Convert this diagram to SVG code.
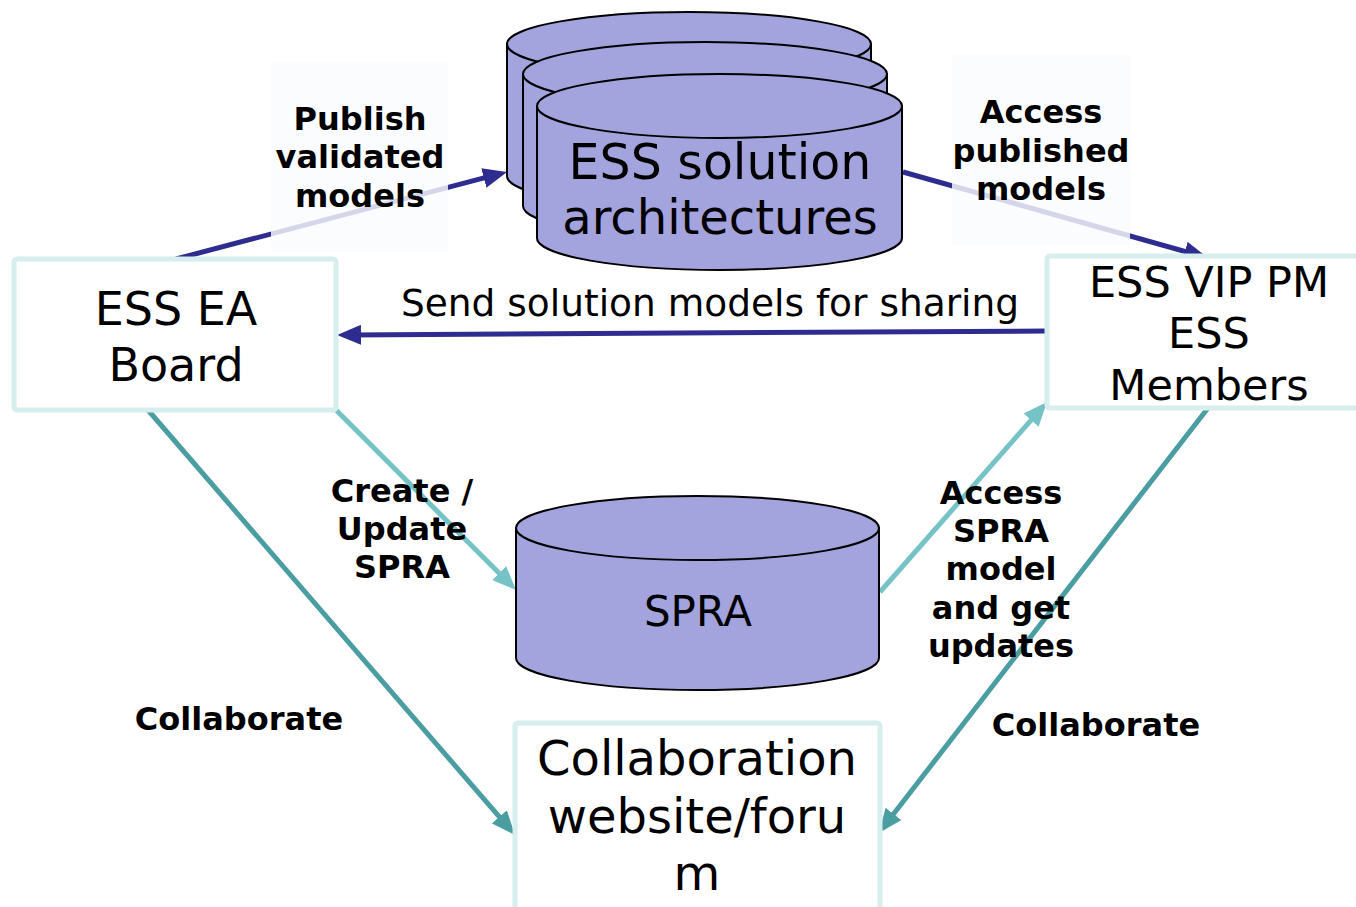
<svg xmlns="http://www.w3.org/2000/svg" width="1356" height="907" viewBox="0 0 1356 907">
<style>
.box{fill:#fff;stroke:#d6eeee;stroke-width:5}
.cyl{fill:#a3a3de;stroke:#000;stroke-width:2}
.node{font-family:"DejaVu Sans",Verdana,sans-serif;fill:#000;text-anchor:middle}
.lbl{font-family:"DejaVu Sans",Verdana,sans-serif;font-weight:bold;font-size:32px;fill:#000;text-anchor:middle}
.navy{stroke:#2e2d8f;stroke-width:5;fill:none}
.lt{stroke:#76c3c7;stroke-width:5;fill:none}
.dk{stroke:#4a9ea2;stroke-width:5;fill:none}
.lblbg{fill:#fafbfd;fill-opacity:0.82}
</style>
<defs>
<marker id="mNavy" markerUnits="userSpaceOnUse" markerWidth="24" markerHeight="20" refX="13" refY="10" orient="auto"><path d="M0,0 L24,10 L0,20 z" fill="#2e2d8f"/></marker>
<marker id="mLt" markerUnits="userSpaceOnUse" markerWidth="24" markerHeight="20" refX="13" refY="10" orient="auto"><path d="M0,0 L24,10 L0,20 z" fill="#76c3c7"/></marker>
<marker id="mDk" markerUnits="userSpaceOnUse" markerWidth="24" markerHeight="20" refX="13" refY="10" orient="auto"><path d="M0,0 L24,10 L0,20 z" fill="#4a9ea2"/></marker>
</defs>
<rect width="1356" height="907" fill="#fff"/>

<g id="connectors">
<line class="navy" x1="176" y1="259" x2="496.4" y2="174.7" marker-end="url(#mNavy)"/>
<line class="navy" x1="903" y1="172" x2="1197.4" y2="255" marker-end="url(#mNavy)"/>
<line class="navy" x1="1047" y1="331" x2="348" y2="334.9" marker-end="url(#mNavy)"/>
<line class="lt" x1="336" y1="410" x2="508.2" y2="582.2" marker-end="url(#mLt)"/>
<line class="lt" x1="880" y1="592" x2="1039.7" y2="410.3" marker-end="url(#mLt)"/>
<line class="dk" x1="148" y1="410" x2="507.8" y2="826.7" marker-end="url(#mDk)"/>
<line class="dk" x1="1208" y1="408" x2="885.6" y2="824.2" marker-end="url(#mDk)"/>
</g>

<g id="label-publish">
<rect class="lblbg" x="271" y="62" width="177" height="190"/>
<text class="lbl" x="360" y="130">Publish</text>
<text class="lbl" x="360" y="168">validated</text>
<text class="lbl" x="360" y="207">models</text>
</g>
<g id="label-access-published">
<rect class="lblbg" x="952" y="55" width="178" height="190"/>
<text class="lbl" x="1041" y="123">Access</text>
<text class="lbl" x="1041" y="162">published</text>
<text class="lbl" x="1041" y="200">models</text>
</g>

<g id="ess-solution-architectures">
<path class="cyl" d="M507,44 L507,176 A182,32 0 0 0 871,176 L871,44 Z"/>
<ellipse class="cyl" cx="689" cy="44" rx="182" ry="32"/>
<path class="cyl" d="M523,74 L523,206 A182,32 0 0 0 887,206 L887,74 Z"/>
<ellipse class="cyl" cx="705" cy="74" rx="182" ry="32"/>
<path class="cyl" d="M537,106 L537,238 A182.5,32 0 0 0 902,238 L902,106 Z"/>
<ellipse class="cyl" cx="719.5" cy="106" rx="182.5" ry="32"/>
<text class="node" x="720" y="179" font-size="49">ESS solution</text>
<text class="node" x="720" y="234" font-size="48">architectures</text>
</g>

<g id="ess-ea-board">
<rect class="box" x="14" y="259" width="322" height="151" rx="3"/>
<text class="node" x="176" y="325" font-size="46">ESS EA</text>
<text class="node" x="176" y="381" font-size="46">Board</text>
</g>

<g id="ess-vip-pm">
<rect class="box" x="1047" y="256" width="320" height="152" rx="3"/>
<text class="node" x="1209" y="297" font-size="43">ESS VIP PM</text>
<text class="node" x="1209" y="348" font-size="43">ESS</text>
<text class="node" x="1209" y="400" font-size="43">Members</text>
</g>

<g id="spra">
<path class="cyl" d="M516,528 L516,658 A181.5,32 0 0 0 879,658 L879,528 Z"/>
<ellipse class="cyl" cx="697.5" cy="528" rx="181.5" ry="32"/>
<text class="node" x="698" y="626" font-size="42">SPRA</text>
</g>

<g id="collaboration-website">
<rect class="box" x="515" y="723" width="365" height="200" rx="3"/>
<text class="node" x="697" y="775" font-size="48">Collaboration</text>
<text class="node" x="697" y="833" font-size="48">website/foru</text>
<text class="node" x="697" y="890" font-size="48">m</text>
</g>

<g id="labels">
<text class="lbl" x="402" y="502">Create /</text>
<text class="lbl" x="402" y="540">Update</text>
<text class="lbl" x="402" y="578">SPRA</text>
<text class="lbl" x="1001" y="504">Access</text>
<text class="lbl" x="1001" y="542">SPRA</text>
<text class="lbl" x="1001" y="580">model</text>
<text class="lbl" x="1001" y="619">and get</text>
<text class="lbl" x="1001" y="657">updates</text>
<text class="lbl" x="239" y="730">Collaborate</text>
<text class="lbl" x="1096" y="736">Collaborate</text>
<text class="node" x="710" y="316" font-size="37.5">Send solution models for sharing</text>
</g>
</svg>
